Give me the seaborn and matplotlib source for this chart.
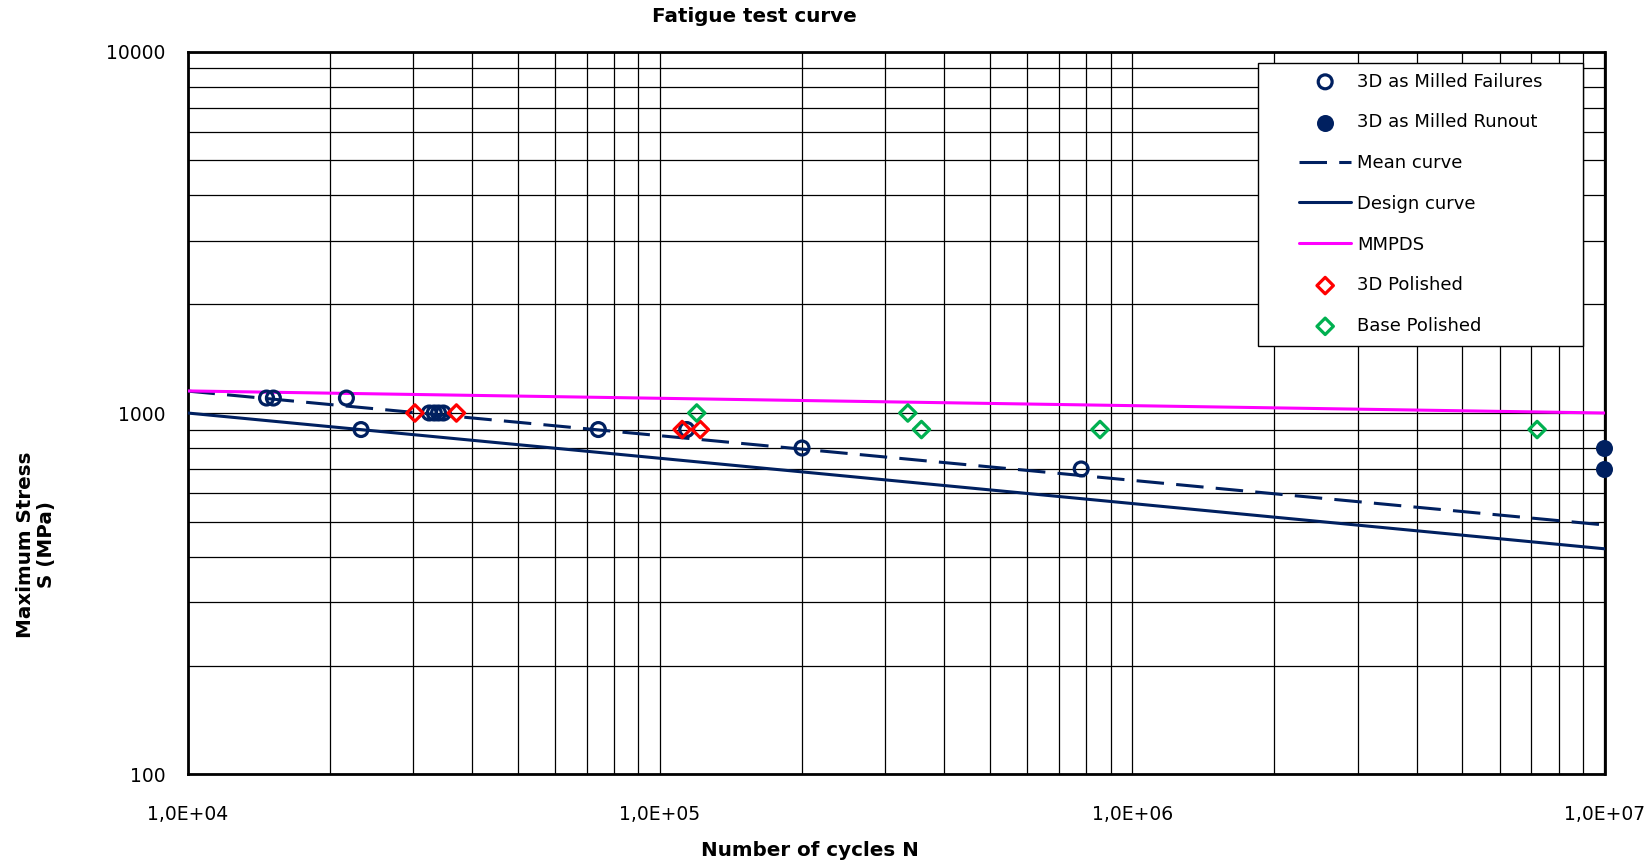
import numpy as np
import matplotlib
matplotlib.use("Agg")
import matplotlib.pyplot as plt
import matplotlib.ticker as mticker
from matplotlib.patches import Rectangle
import seaborn as sns

# Daten
fail_n = [14700, 15200, 21700, 23300, 32500, 33300, 34000, 34800, 74100, 114000, 200000, 780000]
fail_s = [1100, 1100, 1100, 900, 1000, 1000, 1000, 1000, 900, 900, 800, 700]

runout_n = [1.0e7, 1.0e7]
runout_s = [800, 700]

pol3d_n = [30300, 37100, 111500, 121800]
pol3d_s = [1000, 1000, 900, 900]

base_n = [119700, 335000, 358000, 855000, 7.2e6]
base_s = [1000, 1000, 900, 900, 900]

curve_n = [1e4, 1e7]
mean_s = [1150, 490]
design_s = [1000, 421]
mmpds_s = [1151, 1000]

navy = "#002060"
magenta = "#FF00FF"
red = "#FF0000"
green = "#00B050"

sns.set_style("white")
plt.rcParams['font.family'] = ['DejaVu Sans']
plt.rcParams['text.color'] = 'black'

fig = plt.figure(figsize=(16.52, 8.64), dpi=100)
ax = fig.add_axes([187.5 / 1652, 1 - 774.4 / 864, (1604.5 - 187.5) / 1652, (774.4 - 51.6) / 864])
ax.set_xscale("log")
ax.set_yscale("log")

sns.scatterplot(x=fail_n, y=fail_s, ax=ax, marker="o", s=100, color=navy,
                facecolor="none", edgecolor=navy, linewidth=2.3, zorder=5,
                label="3D as Milled Failures", clip_on=False)
sns.scatterplot(x=runout_n, y=runout_s, ax=ax, marker="o", s=150, color=navy,
                edgecolor=navy, linewidth=0, zorder=5, label="3D as Milled Runout", clip_on=False)
sns.lineplot(x=curve_n, y=mean_s, ax=ax, color=navy, lw=2.2, label="Mean curve", zorder=3)
sns.lineplot(x=curve_n, y=design_s, ax=ax, color=navy, lw=2.2, label="Design curve", zorder=3)
sns.lineplot(x=curve_n, y=mmpds_s, ax=ax, color=magenta, lw=2.2, label="MMPDS", zorder=3)
sns.scatterplot(x=pol3d_n, y=pol3d_s, ax=ax, marker="D", s=70, color=red,
                facecolor="none", edgecolor=red, linewidth=2.3, zorder=6, label="3D Polished")
sns.scatterplot(x=base_n, y=base_s, ax=ax, marker="D", s=70, color=green,
                facecolor="none", edgecolor=green, linewidth=2.3, zorder=6, label="Base Polished")

# gestrichelte Mittelkurve
ax.lines[0].set_linestyle((0, (9, 4)))

ax.set_xlim(1e4, 1e7)
ax.set_ylim(100, 10000)

ax.grid(which="both", color="black", lw=0.9)
ax.set_axisbelow(True)
for sp in ax.spines.values():
    sp.set_color("black")
    sp.set_linewidth(2)

ax.xaxis.set_major_locator(mticker.LogLocator(base=10, numticks=10))
ax.xaxis.set_minor_locator(mticker.LogLocator(base=10, subs=np.arange(2, 10), numticks=20))
ax.yaxis.set_major_locator(mticker.LogLocator(base=10, numticks=10))
ax.yaxis.set_minor_locator(mticker.LogLocator(base=10, subs=np.arange(2, 10), numticks=20))
ax.xaxis.set_major_formatter(mticker.FuncFormatter(
    lambda v, p: f"{v / 10 ** int(round(np.log10(v))):.1f}".replace(".", ",") + f"E+{int(round(np.log10(v))):02d}"))
ax.yaxis.set_major_formatter(mticker.FuncFormatter(lambda v, p: f"{int(round(v))}"))
ax.xaxis.set_minor_formatter(mticker.NullFormatter())
ax.yaxis.set_minor_formatter(mticker.NullFormatter())
ax.tick_params(which="both", length=0, labelsize=13.5, colors="black")
ax.tick_params(axis="x", pad=22)
ax.tick_params(axis="y", pad=16)

# Legendenrahmen wie in Excel (breit, links viel Platz)
ax.add_patch(Rectangle((0.7555, 0.593), 0.229, 0.391, transform=ax.transAxes,
                       facecolor="white", edgecolor="black", lw=1, zorder=7))
handles, labels = ax.get_legend_handles_labels()
leg = ax.legend(handles, labels, loc="upper left", bbox_to_anchor=(0.7844, 0.971),
                fontsize=13, frameon=False, labelspacing=1.26, handlelength=2.9,
                handletextpad=0.3, borderpad=0, borderaxespad=0)
leg.set_zorder(8)

fig.text(754 / 1652, 1 - 17 / 864, "Fatigue test curve", ha="center", va="center",
         fontsize=14.3, fontweight="bold", color="black")
fig.text(810 / 1652, 1 - 851 / 864, "Number of cycles N", ha="center", va="center",
         fontsize=14.3, fontweight="bold", color="black")
fig.text(36 / 1652, 1 - 545 / 864, "Maximum Stress\nS (MPa)", ha="center", va="center",
         rotation=90, fontsize=14.3, fontweight="bold", linespacing=1.1, color="black")

fig.savefig("out.png", dpi=100)
